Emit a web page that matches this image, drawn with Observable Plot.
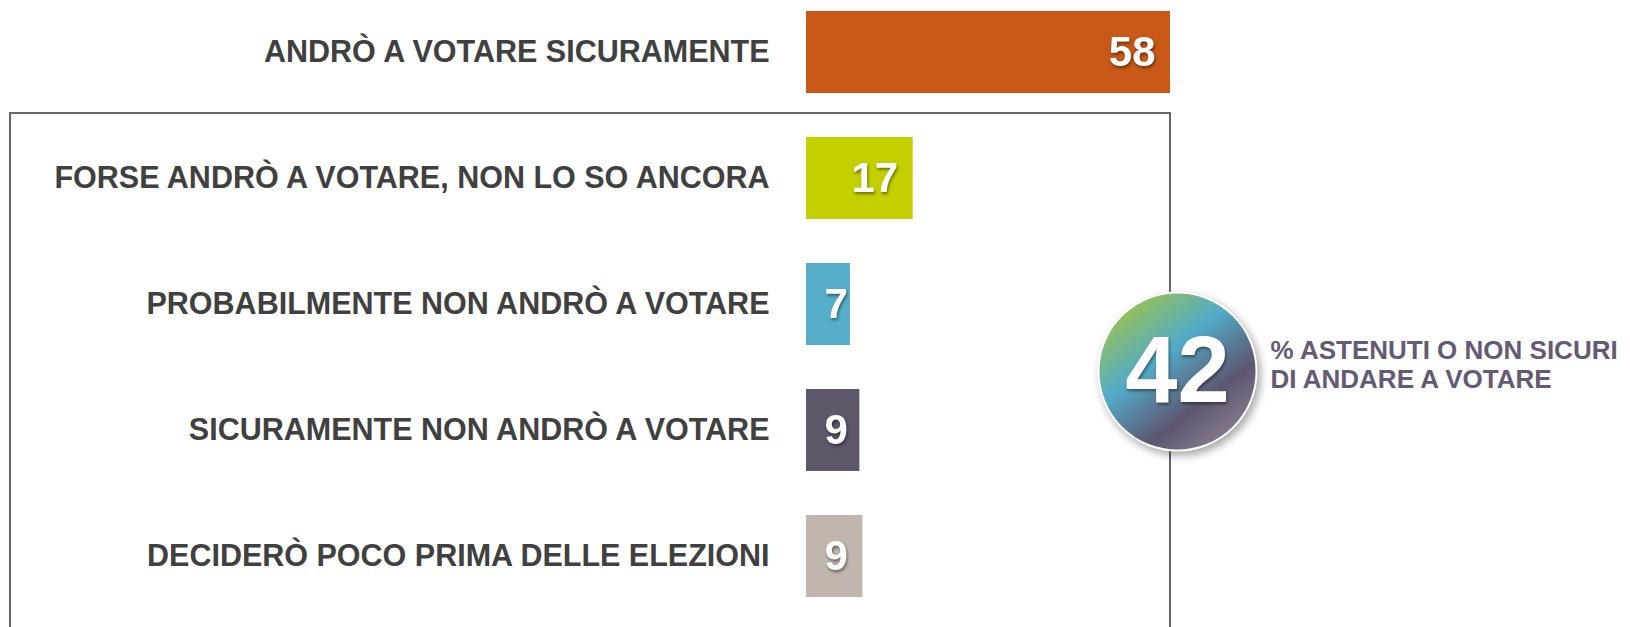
<!DOCTYPE html>
<html>
<head>
<meta charset="utf-8">
<script src="https://cdn.jsdelivr.net/npm/d3@7"></script>
<script src="https://cdn.jsdelivr.net/npm/@observablehq/plot@0.6"></script>
<style>
  html, body { margin: 0; padding: 0; background: #fff; }
  #chart svg g[fill="white"] text { filter: drop-shadow(1.5px 2px 1.5px rgba(0,0,0,0.45)); }
  #chart svg g[fill="url(#grad42)"] circle { filter: drop-shadow(3px 4px 4px rgba(0,0,0,0.35)); }
</style>
</head>
<body>
<div id="chart"></div>
<script>
const categories = [
  "ANDRÒ A VOTARE SICURAMENTE",
  "FORSE ANDRÒ A VOTARE, NON LO SO ANCORA",
  "PROBABILMENTE NON ANDRÒ A VOTARE",
  "SICURAMENTE NON ANDRÒ A VOTARE",
  "DECIDERÒ POCO PRIMA DELLE ELEZIONI"
];
const values = [58, 17, 7, 8.5, 9];
const valueLabels = ["58", "17", "7", "9", "9"];
const barColors = ["#c85917", "#c4cf00", "#56aec9", "#5f566a", "#c0b6ad"];
const calloutValue = ["42"];
const calloutLines = ["% ASTENUTI O NON SICURI", "DI ANDARE A VOTARE"];

const data = categories.map((c, i) => ({cat: c, value: values[i], label: valueLabels[i]}));

const chart = Plot.plot({
  width: 1630,
  height: 627,
  marginLeft: 806,
  marginRight: 0,
  marginTop: 0,
  marginBottom: 0,
  x: {domain: [0, 58], range: [806, 1170], axis: null},
  y: {domain: categories, range: [9, 599], paddingInner: 0.35, paddingOuter: 0, label: null, axis: null},
  color: {domain: categories, range: barColors},
  style: {fontFamily: "'Liberation Sans', Arial, sans-serif", background: "white"},
  marks: [
    Plot.barX(data, {x: "value", y: "cat", fill: "cat"}),
    Plot.axisY({tickSize: 0, tickPadding: 37, fontSize: 30.5, fontWeight: "bold", color: "#404040", label: null}),
    Plot.text(data, {x: d => Math.max(d.value, 9), y: "cat", text: "label", textAnchor: "end", dx: -15, fill: "white", fontSize: 42, fontWeight: "bold"}),
    Plot.dot(calloutValue, {x: () => 58, y: () => categories[2], dx: 7, dy: 67, r: 79, fill: "url(#grad42)", stroke: "white", strokeWidth: 2}),
    Plot.text(calloutValue, {x: () => 58, y: () => categories[2], dx: 7, dy: 67, text: d => d, fill: "white", fontSize: 94, fontWeight: "bold"}),
    Plot.text([calloutLines.join("\n")], {x: () => 58, y: () => categories[2], dx: 100, dy: 60, text: d => d, textAnchor: "start", lineHeight: 1.12, fontSize: 26, fontWeight: "bold", fill: "#655a73"})
  ]
});

// gradient for the callout circle
const svgNS = "http://www.w3.org/2000/svg";
const defs = document.createElementNS(svgNS, "defs");
const grad = document.createElementNS(svgNS, "linearGradient");
grad.setAttribute("id", "grad42");
grad.setAttribute("x1", "0.15"); grad.setAttribute("y1", "0.05");
grad.setAttribute("x2", "0.85"); grad.setAttribute("y2", "0.95");
[["0", "#9dc447"], ["0.38", "#52abc9"], ["0.72", "#5d5670"], ["1", "#8e8090"]].forEach(([o, c]) => {
  const s = document.createElementNS(svgNS, "stop");
  s.setAttribute("offset", o); s.setAttribute("stop-color", c);
  grad.appendChild(s);
});
defs.appendChild(grad);
chart.insertBefore(defs, chart.firstChild);

// grouping frame around the non-certain answers
const sx = chart.scale("x"), sy = chart.scale("y");
const frameTop = (sy.apply(categories[0]) + sy.bandwidth + sy.apply(categories[1])) / 2 - 2;
const frameRight = sx.apply(58);
const frame = document.createElementNS(svgNS, "path");
frame.setAttribute("d", `M${frameRight},640V${frameTop}H10V640`);
frame.setAttribute("fill", "none");
frame.setAttribute("stroke", "#666");
frame.setAttribute("stroke-width", "2");
chart.insertBefore(frame, chart.querySelector("g"));

document.getElementById("chart").appendChild(chart);
</script>
</body>
</html>
